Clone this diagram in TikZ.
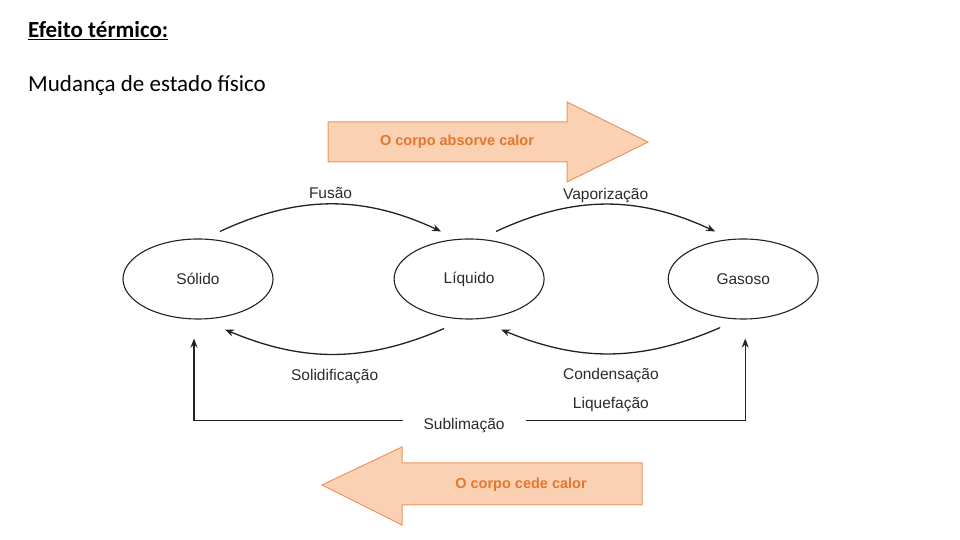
\documentclass[tikz,border=0pt]{standalone}
\usepackage{fontspec}
\setmainfont{Carlito}
\newfontfamily\diagfont{Liberation Sans}
\usetikzlibrary{arrows.meta, positioning, shapes.geometric}
\definecolor{heatfill}{HTML}{FAD2B3}
\definecolor{heatline}{HTML}{E99562}
\definecolor{heattext}{HTML}{E5762D}
\definecolor{inktext}{HTML}{2B2B2B}
\definecolor{inkline}{HTML}{222222}

\begin{document}
\begin{tikzpicture}[x=1pt,y=1pt,
  >={Stealth[length=9pt,width=7pt]},
  phase/.style={ellipse,draw=inkline,line width=1.1pt,minimum width=150pt,minimum height=80pt,font=\diagfont\fontsize{15.5}{18}\selectfont,text=inktext},
  lbl/.style={font=\diagfont\fontsize{15.5}{18}\selectfont,text=inktext,inner sep=1pt},
  arr/.style={->,line width=1.3pt,draw=inkline},
  heat/.style={draw=heatline,fill=heatfill,line width=1pt,line join=miter},
  heatlbl/.style={font=\diagfont\bfseries\fontsize{14.5}{16}\selectfont,text=heattext},
  head/.style={anchor=base west,inner sep=0pt,font=\fontsize{23}{27}\selectfont}
]
\useasboundingbox (0,0) rectangle (960,540);
% heading
\node[head,font=\bfseries\fontsize{23}{27}\selectfont] (title) at (28,502) {\underline{Efeito térmico:}};
\node[head] (subtitle) at (28,448) {Mudança de estado físico};
% heat arrows
\draw[heat] (328,418) -- (567,418) -- (567,438) -- (648,398) -- (567,358) -- (567,378) -- (328,378) -- cycle;
\node[heatlbl] (absorbe) at (457,398) {O corpo absorve calor};
\draw[heat] (642,77) -- (402,77) -- (402,93) -- (322,55) -- (402,15) -- (402,35) -- (642,35) -- cycle;
\node[heatlbl] (cede) at (521,55) {O corpo cede calor};
% phases
\node[phase] (sol) at (198,261) {Sólido};
\node[phase, right=120pt of sol] (liq) {Líquido};
\node[phase, right=123pt of liq] (gas) {Gasoso};
% transitions
\draw[arr] ([xshift=22pt,yshift=7pt]sol.north) to[bend left=25] node[lbl,above=4pt] (fus) {Fusão} ([xshift=-28pt,yshift=7pt]liq.north);
\draw[arr] ([xshift=27pt,yshift=7pt]liq.north) to[bend left=25] node[lbl,above=0pt] (vap) {Vaporização} ([xshift=-28pt,yshift=7pt]gas.north);
\draw[arr] ([xshift=-25pt,yshift=-9pt]liq.south) to[bend left=23] node[lbl,below=13pt] (solid) {Solidificação} ([xshift=27pt,yshift=-10pt]sol.south);
\draw[arr] ([xshift=-23pt,yshift=-8pt]gas.south) to[bend left=23] node[lbl,below=13pt] (cond) {Condensação} ([xshift=32pt,yshift=-10pt]liq.south);
\node[lbl, below=12pt of cond] (liqf) {Liquefação};
\draw[arr,<->] ([xshift=-4pt,yshift=-19pt]sol.south) -- ++(0,-82) -| node[lbl,pos=0.245,fill=white,inner xsep=21pt,yshift=-5pt] (sub) {Sublimação} ([xshift=2pt,yshift=-19pt]gas.south);
\end{tikzpicture}
\end{document}
